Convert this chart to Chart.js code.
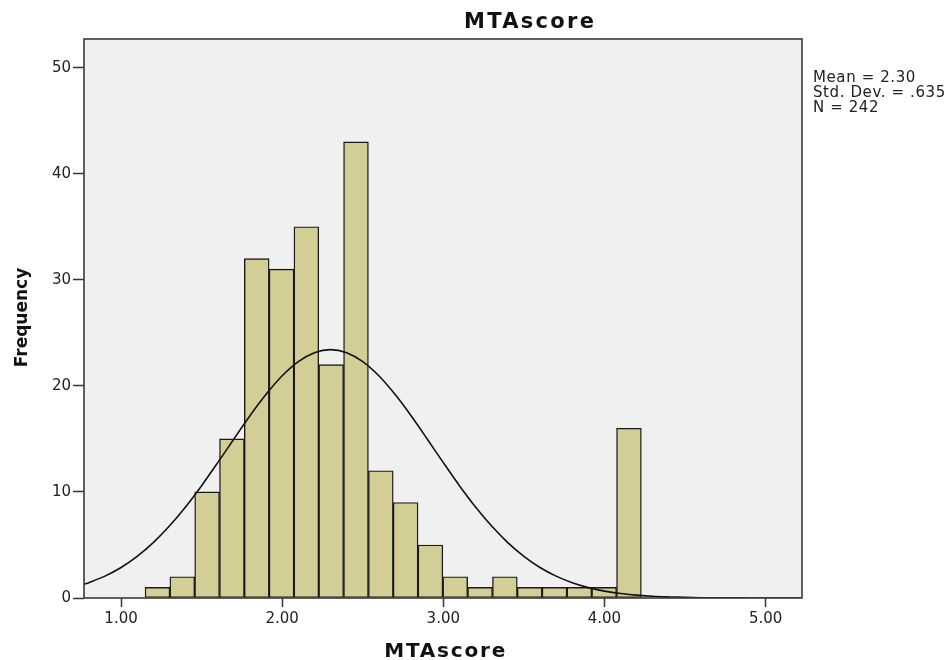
<!DOCTYPE html>
<html>
<head>
<meta charset="utf-8">
<script src="https://cdn.jsdelivr.net/npm/chart.js@4"></script>
<style>
    html, body { margin: 0; padding: 0; background: #fff; }
    #wrap { width: 952px; height: 660px; }
</style>
</head>
<body>
<div id="wrap"><canvas id="histChart"></canvas></div>
<script>
// bin midpoints (MTAscore) and their frequencies
const binCenters = [1.226, 1.380, 1.534, 1.688, 1.842, 1.996, 2.150, 2.304, 2.458, 2.612,
                    2.766, 2.920, 3.074, 3.228, 3.382, 3.536, 3.690, 3.844, 3.998, 4.152];
const frequencies = [1, 2, 10, 15, 32, 31, 35, 22, 43, 12,
                     9, 5, 2, 1, 2, 1, 1, 1, 1, 16];

// fitted normal curve
const curveX = [0.77, 0.8, 0.9, 1.0, 1.1, 1.2, 1.3, 1.4, 1.5, 1.6, 1.7, 1.8, 1.9, 2.0, 2.1, 2.2, 2.3,
                2.4, 2.5, 2.6, 2.7, 2.8, 2.9, 3.0, 3.1, 3.2, 3.3, 3.4, 3.5, 3.6, 3.7, 3.8, 3.9,
                4.0, 4.1, 4.2, 4.3, 4.4, 4.5, 4.6, 4.7, 4.8, 4.9, 5.0, 5.1, 5.226];
const curveY = [1.29, 1.44, 2.06, 2.88, 3.93, 5.22, 6.78, 8.58, 10.59, 12.76, 14.99, 17.18, 19.20, 20.95, 22.29, 23.13, 23.42,
                23.13, 22.29, 20.95, 19.20, 17.18, 14.99, 12.76, 10.59, 8.58, 6.78, 5.22, 3.93, 2.88, 2.06, 1.44, 0.98,
                0.65, 0.42, 0.27, 0.16, 0.10, 0.06, 0.03, 0.02, 0.01, 0.005, 0.002, 0.001, 0];

const xTicks = [1, 2, 3, 4, 5];
const yTicks = [0, 10, 20, 30, 40, 50];
const statsLines = ['Mean = 2.30', 'Std. Dev. = .635', 'N = 242'];

// frame, titles and the stats box
const decorPlugin = {
    id: 'decor',
    beforeDraw(chart) {
        const { ctx, chartArea: a } = chart;
        ctx.save();
        ctx.fillStyle = '#F0F0F0';
        ctx.fillRect(a.left, a.top, a.right - a.left, a.bottom - a.top);
        ctx.restore();
    },
    afterDraw(chart) {
        const { ctx, chartArea: a } = chart;
        ctx.save();
        ctx.strokeStyle = '#3a3a3a';
        ctx.lineWidth = 1.6;
        ctx.strokeRect(a.left, a.top, a.right - a.left, a.bottom - a.top);

        ctx.fillStyle = '#111';
        ctx.textBaseline = 'alphabetic';
        ctx.textAlign = 'left';

        ctx.font = 'bold 21px "DejaVu Sans"';
        ctx.letterSpacing = '2.3px';
        let w = ctx.measureText('MTAscore').width - 2.3;
        ctx.fillText('MTAscore', 529 - w / 2, 27.7);

        ctx.font = 'bold 20px "DejaVu Sans"';
        ctx.letterSpacing = '1.8px';
        w = ctx.measureText('MTAscore').width - 1.8;
        ctx.fillText('MTAscore', 444.7 - w / 2, 656.7);

        ctx.letterSpacing = '0px';
        ctx.font = 'bold 17px "DejaVu Sans"';
        ctx.save();
        ctx.translate(26.5, 317.5);
        ctx.rotate(-Math.PI / 2);
        ctx.textAlign = 'center';
        ctx.fillText('Frequency', 0, 0);
        ctx.restore();

        ctx.font = '15px "DejaVu Sans"';
        ctx.letterSpacing = '0.6px';
        ctx.fillStyle = '#222';
        statsLines.forEach((t, i) => ctx.fillText(t, 813, 81.7 + i * 15.2));
        ctx.restore();
    }
};

function createHistogram() {
    const ctx = document.getElementById('histChart').getContext('2d');

    new Chart(ctx, {
        type: 'bar',
        data: {
            datasets: [{
                type: 'line',
                label: 'Normal',
                data: curveX.map((x, i) => ({ x: x, y: curveY[i] })),
                borderColor: '#111',
                borderWidth: 1.6,
                pointRadius: 0,
                tension: 0.3,
                fill: false,
                order: 0
            },
            {
                label: 'Frequency',
                data: binCenters.map((x, i) => ({ x: x, y: frequencies[i] })),
                backgroundColor: '#D3CE96',
                borderColor: '#1a1a1a',
                borderWidth: 1.4,
                borderSkipped: false,
                barPercentage: 1,
                categoryPercentage: 1,
                order: 1
            }]
        },
        options: {
            responsive: true,
            maintainAspectRatio: false,
            animation: false,
            layout: {
                padding: { left: 0, right: 150, top: 39, bottom: 0 }
            },
            plugins: {
                legend: { display: false },
                tooltip: { enabled: false }
            },
            scales: {
                x: {
                    type: 'linear',
                    min: 0.77,
                    max: 5.226,
                    offset: false,
                    afterBuildTicks: s => { s.ticks = xTicks.map(v => ({ value: v })); },
                    afterFit: s => { s.height = 62; },
                    grid: {
                        offset: false,
                        drawOnChartArea: false,
                        drawTicks: true,
                        tickLength: 9,
                        tickWidth: 1.5,
                        tickColor: '#333'
                    },
                    border: { display: false },
                    ticks: {
                        padding: 3,
                        color: '#222',
                        font: { family: 'DejaVu Sans', size: 15 },
                        maxRotation: 0,
                        callback: v => Number(v).toFixed(2)
                    }
                },
                y: {
                    min: 0,
                    max: 52.7,
                    afterBuildTicks: s => { s.ticks = yTicks.map(v => ({ value: v })); },
                    afterFit: s => { s.width = 84; },
                    grid: {
                        drawOnChartArea: false,
                        drawTicks: true,
                        tickLength: 11,
                        tickWidth: 1.5,
                        tickColor: '#333'
                    },
                    border: { display: false },
                    ticks: {
                        padding: 2,
                        color: '#222',
                        font: { family: 'DejaVu Sans', size: 15 }
                    }
                }
            }
        },
        plugins: [decorPlugin]
    });
}

createHistogram();
</script>
</body>
</html>
